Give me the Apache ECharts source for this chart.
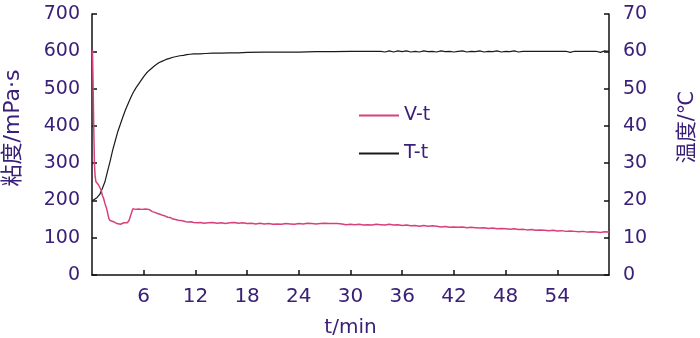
<!DOCTYPE html>
<html>
<head>
<meta charset="utf-8">
<script src="https://cdn.jsdelivr.net/npm/echarts@6/dist/echarts.min.js"></script>
<style>
  html, body { margin: 0; padding: 0; background: #fff; }
  #chart { width: 700px; height: 338px; }
</style>
</head>
<body>
<div id="chart"></div>
<script>
// Viscosity (mPa·s) against time (min)
const viscTime = [0.05,0.12,0.2,0.28,0.36,0.46,0.6,0.75,0.9,1.05,1.2,1.35,1.5,1.65,1.8,1.95,2.1,2.3,2.5,2.7,2.9,3.1,3.3,3.5,3.7,3.9,4.1,4.3,4.45,4.6,4.75,4.9,5.05,5.2,5.4,5.6,5.8,6.0,6.2,6.4,6.6,6.8,7.0,7.3,7.6,7.9,8.2,8.5,8.8,9.1,9.4,9.7,10.0,10.3,10.6,10.9,11.2,11.5,11.8,12.2,12.6,13.0,13.5,14.0,14.5,15.0,15.5,16.0,16.5,17.0,17.5,18.0,18.5,19.0,19.5,20.0,20.5,21.0,21.5,22.0,22.5,23,23.5,24,24.5,25,25.5,26,26.5,27,27.5,28,28.5,29,29.5,30,30.5,31,31.5,32,32.5,33,33.5,34,34.5,35,35.5,36,36.5,37,37.5,38,38.5,39,39.5,40,40.5,41,41.5,42,42.5,43,43.5,44,44.5,45,45.5,46,46.5,47,47.5,48,48.5,49,49.5,50,50.5,51,51.5,52,52.5,53,53.5,54,54.5,55,55.5,56,56.5,57,57.5,58,58.5,59,59.5,60];
const viscValues = [603,520,400,300,265,250,246,242,238,228,214,205,192,182,168,152,146,148,143,141,138,134,136,133,140,142,140,146,150,168,178,174,176,172,177,180,176,179,177,175,176,172,170,168,165,163,160,158,155,154,150,149,147,146,145,143,142,143,141,140,141,139,140,141,139,140,138,140,141,139,140,138,139,137,139,137,138,136,137,136,138,137,136,138,137,139,138,137,138,139,138,138,138,137,135,136,135,136,134,135,134,136,135,134,136,134,135,133,134,132,133,131,133,131,132,131,129,130,128,129,128,129,127,128,127,126,127,125,126,124,125,124,123,124,122,123,121,122,120,121,120,119,120,118,119,117,118,117,116,117,115,116,115,114,116,115];

// Temperature (°C) against time (min)
const tempTime = [0.05,0.3,0.6,0.9,1.2,1.5,1.8,2.1,2.4,2.7,3.0,3.3,3.6,3.9,4.2,4.5,4.8,5.1,5.4,5.7,6.0,6.3,6.6,6.9,7.2,7.5,7.8,8.1,8.4,8.7,9.0,9.4,9.8,10.2,10.6,11.0,11.4,11.8,12.5,13.2,14,15,16,17,18,20,22,24,26,28,30,32,33.5,34,34.5,35,35.5,36,36.5,37,37.5,38,38.5,39,39.5,40,40.5,41,41.5,42,42.5,43,43.5,44,44.5,45,45.5,46,46.5,47,47.5,48,48.5,49,49.5,50,52,54,55,55.5,56,58,58.5,59,59.5,60];
const tempValues = [20,20.3,20.8,21.6,23.2,25,27.8,30.5,33.5,36,38.5,40.5,42.5,44.4,46,47.6,49,50.2,51.2,52.2,53.2,54.1,54.8,55.4,56,56.5,57,57.3,57.6,57.9,58.1,58.4,58.6,58.8,58.9,59.1,59.2,59.3,59.3,59.4,59.5,59.5,59.6,59.6,59.7,59.8,59.8,59.8,59.9,59.9,60,60,60,59.8,60.1,59.8,60.1,59.9,60.1,59.8,60,59.8,60.1,59.9,60,59.8,60.1,59.9,60,59.8,60,60.1,59.8,60,59.9,60.1,59.8,60,59.9,60.1,59.8,60,59.9,60.1,59.8,60,60,60,60,59.7,60,60,60,59.7,60.1,60,60.2];

const xTickStep = 6;
const seriesNames = ['V-t', 'T-t'];

const labelColor = '#3b2078';
const pink = '#d8407c';
const numFont = 'DejaVu Sans';
const nameFont = '"DejaVu Sans", "Noto Sans CJK SC", sans-serif';

const pair = (ts, vs) => ts.map((t, i) => [t, vs[i]]);

const axisCommon = {
  axisLine: { show: true, lineStyle: { color: '#111', width: 1.5 } },
  axisTick: { show: true, inside: true, length: 5, lineStyle: { color: '#111', width: 1.5 } },
  splitLine: { show: false },
  axisLabel: { color: labelColor, fontFamily: numFont, fontSize: 19 }
};

const chart = echarts.init(document.getElementById('chart'), null, { renderer: 'canvas' });
chart.setOption({
  animation: false,
  backgroundColor: '#fff',
  grid: { left: 92, right: 91, top: 14, bottom: 63, containLabel: false, outerBoundsMode: 'none' },
  legend: {
    orient: 'vertical',
    left: 353,
    top: 101,
    itemWidth: 40,
    itemHeight: 14,
    itemGap: 19,
    itemStyle: { opacity: 0 },
    textStyle: { color: labelColor, fontFamily: numFont, fontSize: 19 },
    data: seriesNames
  },
  xAxis: {
    type: 'value',
    min: 0,
    max: 60,
    interval: xTickStep,
    name: 't/min',
    nameLocation: 'middle',
    nameGap: 43,
    nameTextStyle: { color: labelColor, fontFamily: numFont, fontSize: 20 },
    ...axisCommon,
    axisLabel: { ...axisCommon.axisLabel, fontSize: 20, margin: 12, showMinLabel: false, showMaxLabel: false }
  },
  yAxis: [
    {
      type: 'value', min: 0, max: 700, interval: 100, position: 'left',
      ...axisCommon,
      axisLabel: { ...axisCommon.axisLabel, margin: 12 }
    },
    {
      type: 'value', min: 0, max: 70, interval: 10, position: 'right',
      ...axisCommon,
      axisLabel: { ...axisCommon.axisLabel, margin: 14 }
    }
  ],
  graphic: [
    {
      type: 'text', x: 13, y: 128, rotation: Math.PI / 2,
      style: { text: '粘度/mPa·s', fill: labelColor, font: '22px ' + nameFont, align: 'center', verticalAlign: 'middle' }
    },
    {
      type: 'text', x: 688, y: 127, rotation: Math.PI / 2,
      style: { text: '温度/℃', fill: labelColor, font: '21px ' + nameFont, align: 'center', verticalAlign: 'middle' }
    }
  ],
  series: [
    {
      name: seriesNames[0], type: 'line', yAxisIndex: 0, symbol: 'none',
      lineStyle: { color: pink, width: 1.5 }, itemStyle: { color: pink },
      data: pair(viscTime, viscValues), z: 3
    },
    {
      name: seriesNames[1], type: 'line', yAxisIndex: 1, symbol: 'none',
      lineStyle: { color: '#1a1a1a', width: 1.2 }, itemStyle: { color: '#1a1a1a' },
      data: pair(tempTime, tempValues), z: 2
    }
  ]
});
</script>
</body>
</html>
